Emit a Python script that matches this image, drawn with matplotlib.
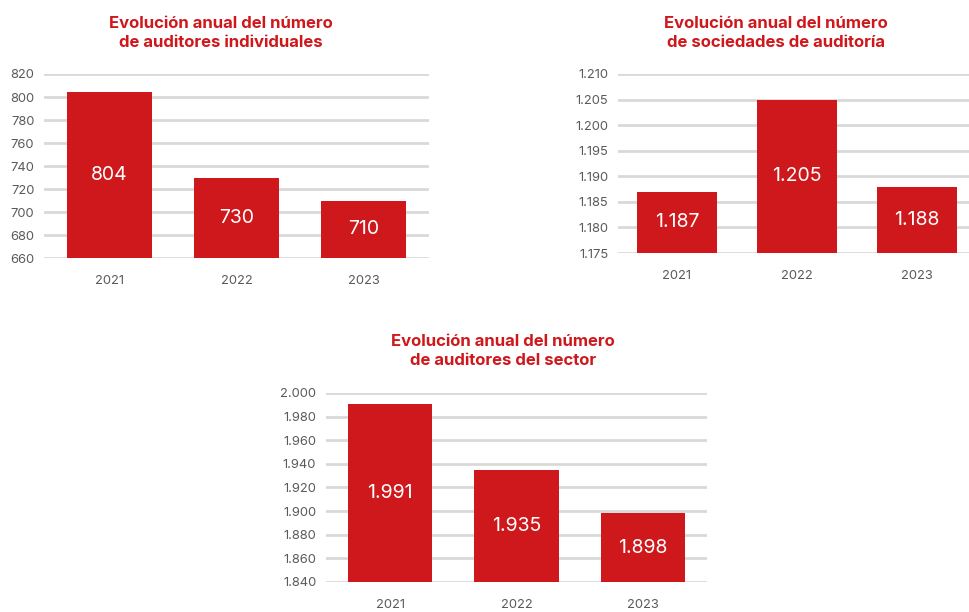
import matplotlib
matplotlib.use("Agg")
import matplotlib.pyplot as plt
from matplotlib.ticker import FuncFormatter, MultipleLocator

plt.rcParams['font.family'] = ['Inter', 'Roboto', 'DejaVu Sans']

years = ["2021", "2022", "2023"]
individuales = [804, 730, 710]
sociedades = [1187, 1205, 1188]
sector = [1991, 1935, 1898]

RED = "#cf181c"
GRID = "#d9d9d9"
W, H = 970, 612


def es_num(v, pos=None):
    return "{:,.0f}".format(v).replace(",", ".")


def draw(rect_px, values, ylim, step, xlim, title, title_xy):
    x0, y0, x1, y1 = rect_px
    ax = fig.add_axes([x0 / W, 1 - y1 / H, (x1 - x0) / W, (y1 - y0) / H])
    xs = range(len(values))
    ax.bar(xs, values, width=0.667, color=RED, zorder=3)
    ax.set_ylim(*ylim)
    ax.set_xlim(*xlim)
    ax.yaxis.set_major_locator(MultipleLocator(step))
    ax.yaxis.set_major_formatter(FuncFormatter(es_num))
    ax.grid(axis="y", color=GRID, linewidth=2, zorder=0)
    for s in ax.spines.values():
        s.set_visible(False)
    ax.tick_params(length=0, labelsize=9.3, labelcolor="#5a5a5a")
    ax.tick_params(axis="y", pad=7)
    ax.tick_params(axis="x", pad=12)
    ax.set_xticks(list(xs))
    ax.set_xticklabels(years)
    for x, v in zip(xs, values):
        ax.text(x, (v + ylim[0]) / 2, es_num(v), ha="center", va="center",
                color="white", fontsize=14, fontweight="normal", zorder=4)
    fig.text(title_xy[0] / W, 1 - title_xy[1] / H, title, ha="center", va="center",
             color=RED, fontsize=12, fontweight="bold", linespacing=1.4)
    return ax


fig = plt.figure(figsize=(9.7, 6.12), dpi=100)

draw((44, 74, 429, 258), individuales, (660, 820), 20, (-0.514, 2.514),
     "Evolución anual del número\nde auditores individuales", (221, 33))
draw((618, 74, 970, 253), sociedades, (1175, 1210), 5, (-0.49, 2.44),
     "Evolución anual del número\nde sociedades de auditoría", (776, 33))
draw((326, 393, 707, 582), sector, (1840, 2000), 20, (-0.506, 2.506),
     "Evolución anual del número\nde auditores del sector", (503, 351))

fig.savefig("out.png", dpi=100)
